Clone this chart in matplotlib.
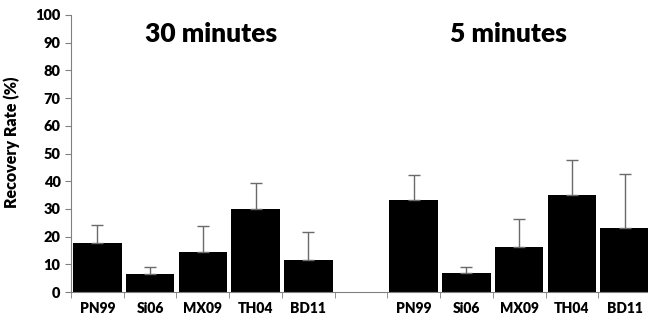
import numpy as np
import matplotlib.pyplot as plt

# data
strains = ['PN99', 'Si06', 'MX09', 'TH04', 'BD11']
rate_30min = [17.8, 6.6, 14.5, 29.8, 11.7]
err_30min = [6.4, 2.4, 9.4, 9.7, 9.8]
rate_5min = [33.1, 7.0, 16.2, 35.0, 23.2]
err_5min = [9.1, 2.0, 10.2, 12.5, 19.5]

plt.rcParams['font.family'] = ['Lato', 'DejaVu Sans']

fig = plt.figure(figsize=(6.48, 3.22), dpi=100)
ax = fig.add_axes([71/648, 30/322, 580/648, 277/322])

x30 = np.arange(5)
x5 = np.arange(6, 11)
grey = '#808080'
ekw = dict(ecolor='#6a6a6a', elinewidth=1.0, capsize=4.5, capthick=1.0)

ax.bar(x30, rate_30min, width=0.92, color='black',
       yerr=[np.zeros(5), err_30min], error_kw=ekw)
ax.bar(x5, rate_5min, width=0.92, color='black',
       yerr=[np.zeros(5), err_5min], error_kw=ekw)

ax.set_xlim(-0.5, 10.5)
ax.set_ylim(0, 100)
ax.set_yticks(range(0, 101, 10))
ax.set_xticks(list(x30) + list(x5))
ax.set_xticklabels(strains + strains, fontweight='heavy', fontsize=10)
ax.set_xticks(np.arange(-0.5, 11, 1), minor=True)
ax.tick_params(axis='x', which='major', length=0, pad=7)
ax.tick_params(axis='x', which='minor', length=4, color=grey)
ax.tick_params(axis='y', length=4, color=grey, labelsize=10.5)
for lab in ax.get_yticklabels():
    lab.set_fontweight('heavy')

for s in ['top', 'right']:
    ax.spines[s].set_visible(False)
for s in ['left', 'bottom']:
    ax.spines[s].set_color(grey)

ax.set_ylabel('Recovery Rate (%)', fontweight='heavy', fontsize=11.5)
ax.yaxis.set_label_coords(-0.088, 0.54)

ax.text(2.15, 93, '30 minutes', ha='center', va='center', fontsize=19, fontweight='heavy')
ax.text(7.8, 93, '5 minutes', ha='center', va='center', fontsize=19, fontweight='heavy')

fig.savefig('out.png', dpi=100)
